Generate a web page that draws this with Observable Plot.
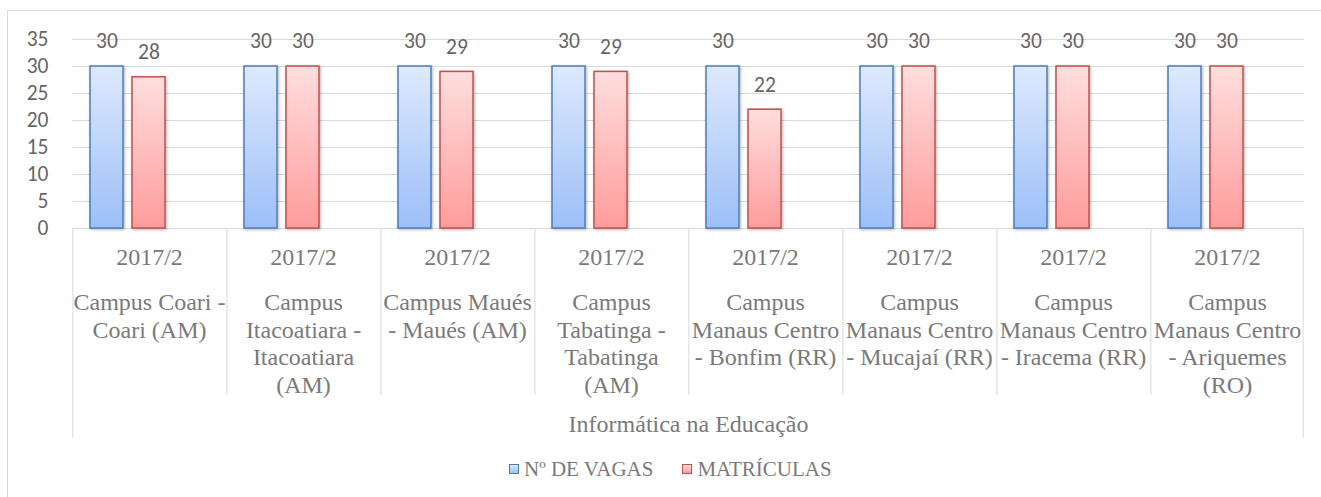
<!DOCTYPE html>
<html>
<head>
<meta charset="utf-8">
<script src="https://cdn.jsdelivr.net/npm/d3@7"></script>
<script src="https://cdn.jsdelivr.net/npm/@observablehq/plot@0.6"></script>
<style>
  html, body { margin: 0; padding: 0; background: #fff; overflow: hidden; }
  #wrap { position: relative; width: 1321px; height: 497px; overflow: hidden; background: #fff; }
  #frame { position: absolute; left: 7px; top: 10px; width: 1340px; height: 520px; border: 1px solid #d9d9d9; box-sizing: border-box; }
  #chart { position: absolute; left: 0; top: 0; }
  #legend { position: absolute; left: 509px; top: 458px; display: flex; align-items: center;
            font-family: "Liberation Serif", "Times New Roman", serif; font-size: 21px; line-height: 22px; color: #7a7a7a; white-space: nowrap; }
  #legend .sw { width: 10px; height: 10px; box-sizing: border-box; border: 1.5px solid; margin-right: 5px; }
  #legend .gap { width: 29px; }
  #chart g[aria-label="bar"] rect { filter: url(#shadow); }
</style>
</head>
<body>
<svg width="0" height="0" style="position:absolute">
  <defs>
    <linearGradient id="gBlue" x1="0" y1="0" x2="0" y2="1">
      <stop offset="0" stop-color="#dee9fd"/>
      <stop offset="1" stop-color="#9dbff8"/>
    </linearGradient>
    <linearGradient id="gRed" x1="0" y1="0" x2="0" y2="1">
      <stop offset="0" stop-color="#ffdede"/>
      <stop offset="1" stop-color="#ff9c9c"/>
    </linearGradient>
    <filter id="shadow" x="-30%" y="-10%" width="160%" height="120%">
      <feDropShadow dx="1" dy="1" stdDeviation="1.6" flood-color="#000" flood-opacity="0.3"/>
    </filter>
  </defs>
</svg>
<div id="wrap">
  <div id="frame"></div>
  <div id="chart"></div>
  <div id="legend">
    <span class="sw" style="border-color:#4a7ebb;background:linear-gradient(#dee9fd,#9dbff8)"></span><span id="lg0"></span>
    <span class="gap"></span>
    <span class="sw" style="border-color:#c0504d;background:linear-gradient(#ffdede,#ff9c9c)"></span><span id="lg1"></span>
  </div>
</div>
<script>
// ---- data ----
const campuses = [
  "Campus Coari -\nCoari (AM)",
  "Campus\nItacoatiara -\nItacoatiara\n(AM)",
  "Campus Maués\n- Maués (AM)",
  "Campus\nTabatinga -\nTabatinga\n(AM)",
  "Campus\nManaus Centro\n- Bonfim (RR)",
  "Campus\nManaus Centro\n- Mucajaí (RR)",
  "Campus\nManaus Centro\n- Iracema (RR)",
  "Campus\nManaus Centro\n- Ariquemes\n(RO)"
];
const periods = ["2017/2", "2017/2", "2017/2", "2017/2", "2017/2", "2017/2", "2017/2", "2017/2"];
const course = "Informática na Educação";
const series = ["Nº DE VAGAS", "MATRÍCULAS"];
const vagas = [30, 30, 30, 30, 30, 30, 30, 30];
const matriculas = [28, 30, 29, 29, 22, 30, 30, 30];
const yTicks = [0, 5, 10, 15, 20, 25, 30, 35];

document.getElementById("lg0").textContent = series[0];
document.getElementById("lg1").textContent = series[1];

const rows = campuses.flatMap((c, i) => [
  {campus: c, serie: series[0], value: vagas[i]},
  {campus: c, serie: series[1], value: matriculas[i]}
]);
const cats = campuses.map((c, i) => ({campus: c, period: periods[i]}));

// ---- layout ----
const W = 1321, H = 445, ML = 72, MR = 17, MT = 39, MB = 217;
const slots = [series[0], series[1], " "];
const PI = 0.21, PO = 0.4;
const fw = (W - ML - MR) / campuses.length;
const step = fw / (slots.length - PI + 2 * PO);
const bw = step * (1 - PI);
const edgeOff = PO * step + bw / 2;
const frameH = H - MT - MB;
const serif = "'Liberation Serif', 'Times New Roman', serif";
const sans = "Carlito, 'Open Sans', sans-serif";
const txtGray = "#7a7a7a";
const numGray = "#666666";

const chart = Plot.plot({
  width: W, height: H,
  marginLeft: ML, marginRight: MR, marginTop: MT, marginBottom: MB,
  style: {fontFamily: sans, fontSize: "21.5px", color: numGray, background: "transparent", overflow: "visible"},
  fx: {domain: campuses, padding: 0, axis: null},
  x: {domain: slots, paddingInner: PI, paddingOuter: PO, axis: null},
  y: {domain: [0, 35], ticks: yTicks, tickSize: 0, tickPadding: 24, label: null, tickFormat: d => String(d)},
  marks: [
    Plot.ruleY(yTicks, {stroke: "#d9d9d9", strokeWidth: 1}),
    // category separators
    Plot.ruleX(campuses.slice(1).map(c => ({campus: c})), {fx: "campus", x: () => slots[0], dx: -edgeOff, insetTop: frameH, insetBottom: -167, stroke: "#d9d9d9"}),
    Plot.ruleX([{campus: campuses[0]}], {fx: "campus", x: () => slots[0], dx: -edgeOff, insetTop: frameH, insetBottom: -210, stroke: "#d9d9d9"}),
    Plot.ruleX([{campus: campuses[campuses.length - 1]}], {fx: "campus", x: () => slots[2], dx: edgeOff, insetTop: frameH, insetBottom: -210, stroke: "#d9d9d9"}),
    // bars
    Plot.barY(rows.filter(d => d.serie === series[0]), {fx: "campus", x: "serie", y: "value", fill: "url(#gBlue)", stroke: "#4a7ebb", strokeWidth: 1.5}),
    Plot.barY(rows.filter(d => d.serie === series[1]), {fx: "campus", x: "serie", y: "value", fill: "url(#gRed)", stroke: "#c0504d", strokeWidth: 1.5}),
    // data labels
    Plot.text(rows, {fx: "campus", x: "serie", y: "value", text: d => String(d.value), dy: -25, fill: numGray, fontFamily: sans, fontSize: 21.5}),
    // category axis labels
    Plot.text(cats, {fx: "campus", frameAnchor: "bottom", lineAnchor: "top", dy: 19.3, text: "period", fontFamily: serif, fontSize: 24, fill: txtGray}),
    Plot.text(cats, {fx: "campus", frameAnchor: "bottom", lineAnchor: "top", dy: 62.3, lineHeight: 1.146, text: "campus", fontFamily: serif, fontSize: 24, fill: txtGray}),
    Plot.text([{campus: campuses[3], label: course}], {fx: "campus", frameAnchor: "bottom-right", textAnchor: "middle", lineAnchor: "top", dy: 186, text: "label", fontFamily: serif, fontSize: 24, fill: txtGray})
  ]
});
document.getElementById("chart").appendChild(chart);
</script>
</body>
</html>
